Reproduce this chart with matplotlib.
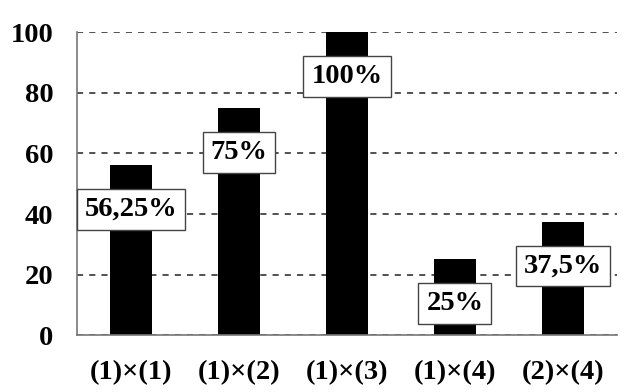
import numpy as np
import matplotlib.pyplot as plt

categories = ['(1)×(1)', '(1)×(2)', '(1)×(3)', '(1)×(4)', '(2)×(4)']
values = [56.25, 75, 100, 25, 37.5]
labels = ['56,25%', '75%', '100%', '25%', '37,5%']

plt.rcParams['font.family'] = ['Liberation Serif', 'DejaVu Serif']
plt.rcParams['font.weight'] = 'bold'

fig = plt.figure(figsize=(6.32, 3.92), dpi=100)
ax = fig.add_axes([0.1218, 0.1454, 0.8544, 0.7717])

x = np.arange(len(categories))
ax.bar(x, values, width=0.39, color='black', zorder=3)

ax.set_xlim(-0.5, 4.5)
ax.set_ylim(0, 100)
ax.set_yticks([0, 20, 40, 60, 80, 100])
ax.yaxis.grid(True, linestyle=(0, (4, 4)), color='#222222', linewidth=1.1, zorder=1)
ax.set_xticks(x)
ax.set_xticklabels(categories)
ax.tick_params(axis='both', length=0, labelsize=20.5)
ax.tick_params(axis='y', pad=17)
ax.tick_params(axis='x', pad=18)

for s in ['top', 'right']:
    ax.spines[s].set_visible(False)
for s in ['left', 'bottom']:
    ax.spines[s].set_color('#777777')
    ax.spines[s].set_linewidth(1.2)
    ax.spines[s].set_zorder(4)

for xi, v, lab in zip(x, values, labels):
    ax.annotate(lab, (xi, v), xytext=(0, -32), textcoords='offset points',
                ha='center', va='center', fontsize=20.5, fontweight='bold', zorder=5,
                bbox=dict(boxstyle='square,pad=0.28', fc='white', ec='#444444', lw=1.0))

fig.savefig('out.png', dpi=100)
